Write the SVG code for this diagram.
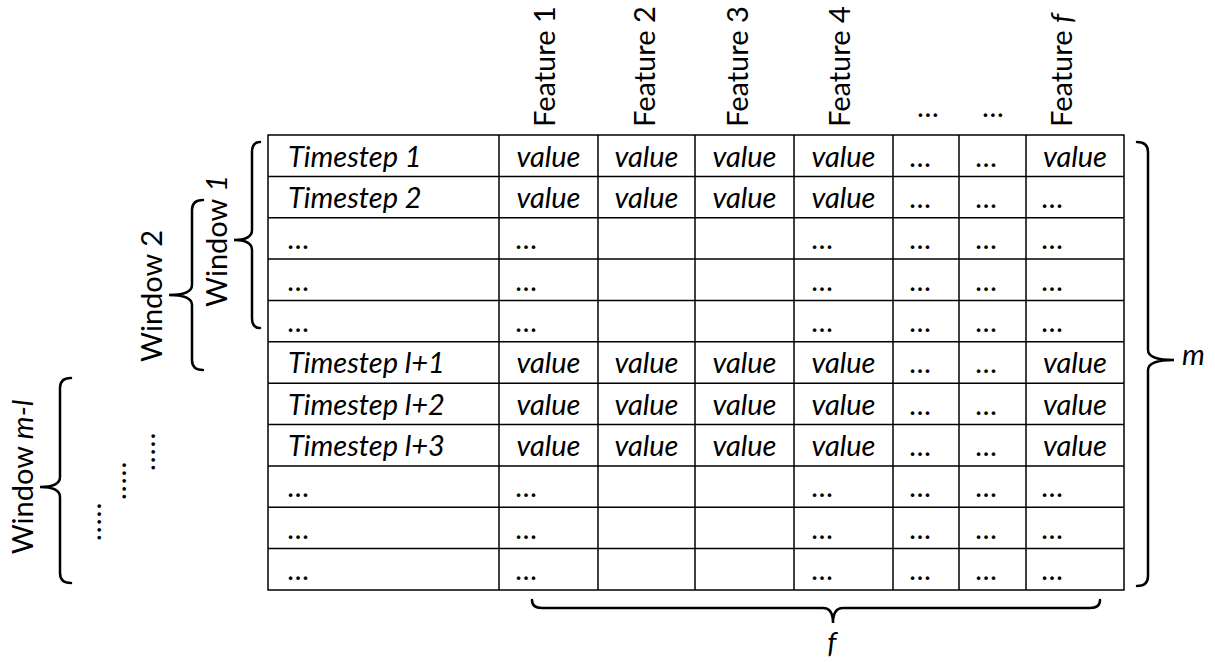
<svg xmlns="http://www.w3.org/2000/svg" width="1215" height="662" viewBox="0 0 1215 662">
<style>
.t{font-family:Lato,"Open Sans","Liberation Sans",sans-serif;font-size:29px;fill:#000}
.i{font-style:italic}
.g{stroke:#000;stroke-width:1.5;fill:none}
.br{stroke:#000;stroke-width:2.5;fill:none;stroke-linecap:round}
.m{text-anchor:middle}
</style>
<rect width="1215" height="662" fill="#fff"/>
<g id="headers" class="t">
<text transform="translate(555,127) rotate(-90)">Feature 1</text>
<text transform="translate(655,127) rotate(-90)">Feature 2</text>
<text transform="translate(748,127) rotate(-90)">Feature 3</text>
<text transform="translate(850,127) rotate(-90)">Feature 4</text>
<text transform="translate(1072,127) rotate(-90)">Feature <tspan class="i">f</tspan></text>
<text x="917" y="117">…</text>
<text x="982" y="117">…</text>
</g>
<g id="table">
<rect class="g" x="268" y="135" width="856" height="455"/>
<path class="g" d="M499 135V590M598 135V590M695 135V590M794 135V590M893 135V590M959 135V590M1026 135V590"/>
<path class="g" d="M268 176.4H1124M268 217.7H1124M268 259.1H1124M268 300.4H1124M268 341.8H1124M268 383.2H1124M268 424.5H1124M268 465.9H1124M268 507.2H1124M268 548.6H1124"/>
<g class="t i">
<text x="288" y="166.5">Timestep 1</text>
<text x="288" y="207.9">Timestep 2</text>
<text x="288" y="249.2">…</text>
<text x="288" y="290.6">…</text>
<text x="288" y="331.9">…</text>
<text x="288" y="373.3">Timestep l+1</text>
<text x="288" y="414.7">Timestep l+2</text>
<text x="288" y="456">Timestep l+3</text>
<text x="288" y="497.4">…</text>
<text x="288" y="538.7">…</text>
<text x="288" y="580.1">…</text>
</g>
<g class="t i m">
<text x="548.5" y="166.5">value</text><text x="646.5" y="166.5">value</text><text x="744.5" y="166.5">value</text><text x="843.5" y="166.5">value</text><text x="1075" y="166.5">value</text>
<text x="548.5" y="207.9">value</text><text x="646.5" y="207.9">value</text><text x="744.5" y="207.9">value</text><text x="843.5" y="207.9">value</text>
<text x="548.5" y="373.3">value</text><text x="646.5" y="373.3">value</text><text x="744.5" y="373.3">value</text><text x="843.5" y="373.3">value</text><text x="1075" y="373.3">value</text>
<text x="548.5" y="414.7">value</text><text x="646.5" y="414.7">value</text><text x="744.5" y="414.7">value</text><text x="843.5" y="414.7">value</text><text x="1075" y="414.7">value</text>
<text x="548.5" y="456">value</text><text x="646.5" y="456">value</text><text x="744.5" y="456">value</text><text x="843.5" y="456">value</text><text x="1075" y="456">value</text>
</g>
<g class="t i">
<text x="910" y="166.5">…</text><text x="976" y="166.5">…</text>
<text x="910" y="207.9">…</text><text x="976" y="207.9">…</text><text x="1042" y="207.9">…</text>
<text x="516" y="249.2">…</text><text x="812" y="249.2">…</text><text x="910" y="249.2">…</text><text x="976" y="249.2">…</text><text x="1042" y="249.2">…</text>
<text x="516" y="290.6">…</text><text x="812" y="290.6">…</text><text x="910" y="290.6">…</text><text x="976" y="290.6">…</text><text x="1042" y="290.6">…</text>
<text x="516" y="331.9">…</text><text x="812" y="331.9">…</text><text x="910" y="331.9">…</text><text x="976" y="331.9">…</text><text x="1042" y="331.9">…</text>
<text x="910" y="373.3">…</text><text x="976" y="373.3">…</text>
<text x="910" y="414.7">…</text><text x="976" y="414.7">…</text>
<text x="910" y="456">…</text><text x="976" y="456">…</text>
<text x="516" y="497.4">…</text><text x="812" y="497.4">…</text><text x="910" y="497.4">…</text><text x="976" y="497.4">…</text><text x="1042" y="497.4">…</text>
<text x="516" y="538.7">…</text><text x="812" y="538.7">…</text><text x="910" y="538.7">…</text><text x="976" y="538.7">…</text><text x="1042" y="538.7">…</text>
<text x="516" y="580.1">…</text><text x="812" y="580.1">…</text><text x="910" y="580.1">…</text><text x="976" y="580.1">…</text><text x="1042" y="580.1">…</text>
</g>
</g>
<g id="connectors">
<path id="brace-w1" class="br" d="M260 142Q252 142 252 152L252 230Q252 240 234 240Q252 240 252 250L252 318Q252 328 260 328"/>
<path id="brace-w2" class="br" d="M203 200Q192 200 192 210L192 285Q192 295 169 295Q192 295 192 305L192 360Q192 370 203 370"/>
<path id="brace-wml" class="br" d="M71 378Q60 378 60 388L60 477Q60 487 40 487Q60 487 60 497L60 573Q60 583 71 583"/>
<path id="brace-m" class="br" d="M1137 142Q1148 142 1148 152L1148 350Q1148 360 1174 360Q1148 360 1148 370L1148 576Q1148 586 1137 586"/>
<path id="brace-f" class="br" d="M532 600Q532 608 542 608L823 608Q833 608 833 623Q833 608 843 608L1090 608Q1100 608 1100 600"/>
</g>
<g id="labels" class="t">
<text transform="translate(227,241) rotate(-90)" class="m">Window <tspan class="i">1</tspan></text>
<text transform="translate(162,296) rotate(-90)" class="m">Window 2</text>
<text transform="translate(33,477) rotate(-90)" class="m">Window <tspan class="i">m-l</tspan></text>
<text x="1182" y="365" class="i">m</text>
<text x="832" y="653" class="i m">f</text>
</g>
<g id="dots" class="t">
<text transform="translate(101,541) rotate(-90)" letter-spacing="1">.....</text>
<text transform="translate(126,500) rotate(-90)" letter-spacing="1">.....</text>
<text transform="translate(155,471) rotate(-90)" letter-spacing="1">.....</text>
</g>
</svg>
